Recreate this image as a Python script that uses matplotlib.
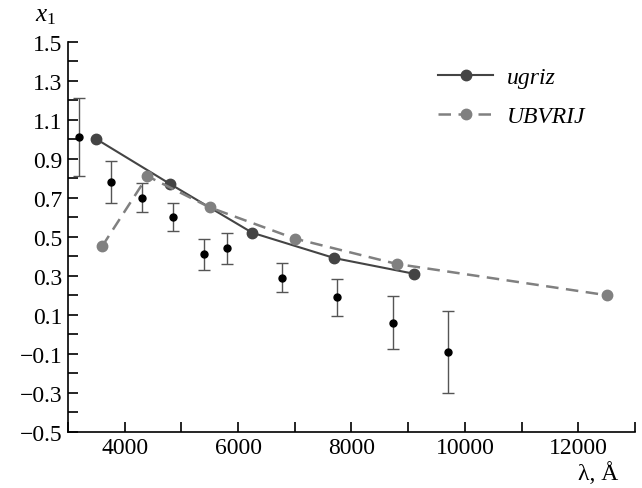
import matplotlib
matplotlib.use("Agg")
import matplotlib.pyplot as plt
import numpy as np

# data
ugriz_x = [3500, 4800, 6250, 7700, 9100]
ugriz_y = [1.00, 0.77, 0.52, 0.39, 0.31]

ubvrij_x = [3600, 4400, 5500, 7000, 8800, 12500]
ubvrij_y = [0.45, 0.81, 0.65, 0.49, 0.36, 0.20]

obs_x = [3200, 3750, 4300, 4850, 5400, 5800, 6770, 7750, 8730, 9710]
obs_y = [1.01, 0.78, 0.70, 0.60, 0.41, 0.44, 0.29, 0.19, 0.06, -0.09]
obs_err = [0.20, 0.11, 0.075, 0.07, 0.08, 0.08, 0.075, 0.095, 0.135, 0.21]

x_ticks_major = [4000, 6000, 8000, 10000, 12000]
y_ticks_major = [-0.5, -0.3, -0.1, 0.1, 0.3, 0.5, 0.7, 0.9, 1.1, 1.3, 1.5]

plt.rcParams['font.family'] = ['Liberation Serif', 'DejaVu Serif']
plt.rcParams['mathtext.fontset'] = 'custom'
plt.rcParams['mathtext.rm'] = 'Liberation Serif'
plt.rcParams['mathtext.it'] = 'Liberation Serif:italic'

fig = plt.figure(figsize=(6.42, 4.89), dpi=100)
ax = fig.add_axes([0.106, 0.115, 0.883, 0.798])

ax.plot(ugriz_x, ugriz_y, '-', color='#444444', lw=1.5, marker='o', ms=7.5,
        mfc='#444444', mec='#444444', label='ugriz', zorder=3)
ax.plot(ubvrij_x, ubvrij_y, '--', color='#808080', lw=1.8, marker='o', ms=7.5,
        mfc='#808080', mec='#808080', label='UBVRIJ', dashes=(5, 3), zorder=3)
ax.errorbar(obs_x, obs_y, yerr=obs_err, fmt='o', color='black', ms=5,
            ecolor='#555555', elinewidth=1.0, capsize=4, capthick=1.0, zorder=4)

ax.set_xlim(3000, 13000)
ax.set_ylim(-0.5, 1.5)
ax.set_xticks(np.arange(3000, 13001, 1000))
ax.set_xticklabels([str(v) if v in x_ticks_major else '' for v in range(3000, 13001, 1000)])
yt = np.round(np.arange(-0.5, 1.51, 0.1), 1)
ax.set_yticks(yt)
ax.set_yticklabels([('\u2212' + f"{abs(v):.1f}" if v < 0 else f"{v:.1f}") if np.any(np.isclose(v, y_ticks_major)) else '' for v in yt])

for s in ['top', 'right']:
    ax.spines[s].set_visible(False)
for s in ['left', 'bottom']:
    ax.spines[s].set_linewidth(1.2)
ax.tick_params(direction='in', length=7, width=1.2, labelsize=17, pad=4)

ax.text(-0.04, 1.04, r'$x_1$', transform=ax.transAxes, fontsize=18, ha='center', va='bottom')
ax.text(0.97, -0.075, 'λ, Å', transform=ax.transAxes, fontsize=17, ha='right', va='top')

leg = ax.legend(loc='upper right', bbox_to_anchor=(0.95, 0.99), frameon=False,
                prop={'family': 'Liberation Serif', 'style': 'italic', 'size': 17},
                handlelength=2.3, labelspacing=0.75, handletextpad=0.6)

fig.savefig('out.png', dpi=100)
